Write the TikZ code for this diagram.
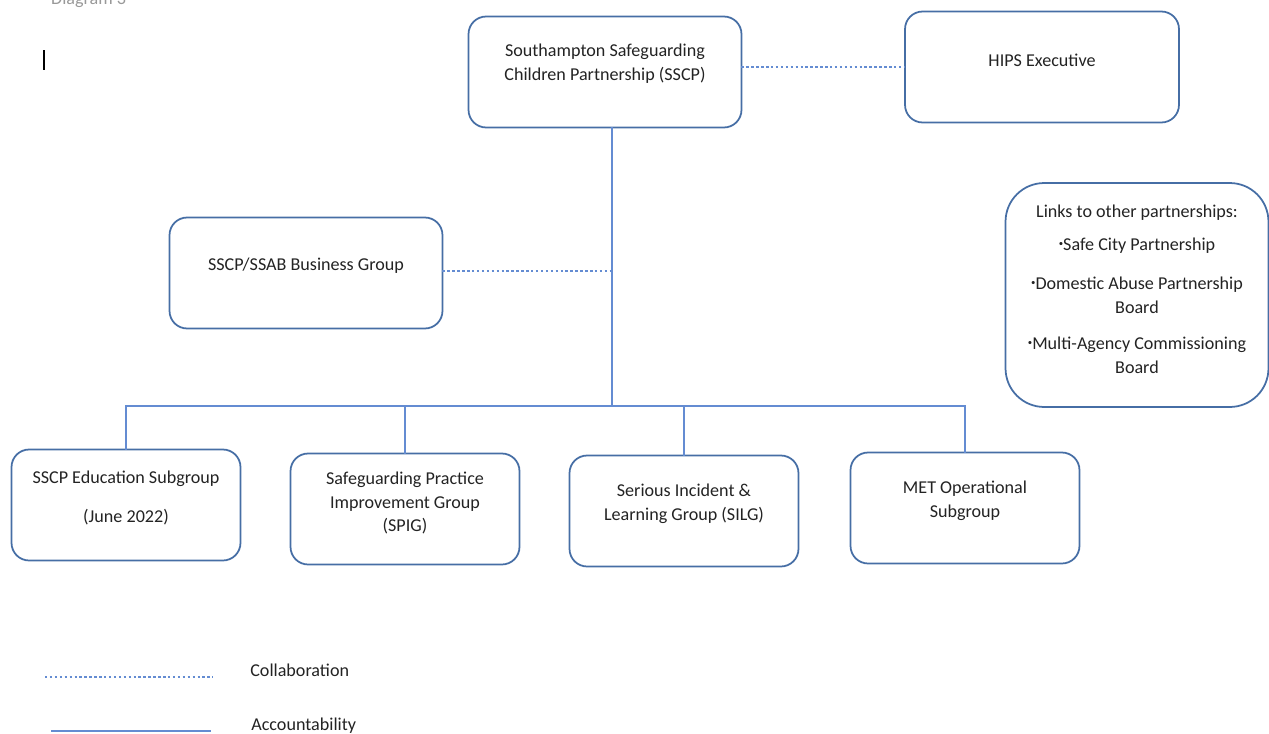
\documentclass[tikz,border=0pt]{standalone}
\usepackage{fontspec}
\setmainfont{Carlito}
\usetikzlibrary{positioning}

\definecolor{boxblue}{RGB}{70,110,165}
\definecolor{lineblue}{RGB}{100,140,210}
\definecolor{txtgray}{RGB}{35,35,35}
\newcommand{\linkbullet}{\raisebox{.5ex}{\tiny •}}

\begin{document}
\begin{tikzpicture}[
    x=0.02cm, y=-0.02cm,
    every node/.style={font=\fontsize{10.3}{13.6}\selectfont, text=txtgray},
    box/.style={rectangle, draw=boxblue, line width=1pt, rounded corners=10pt, minimum width=4.58cm, minimum height=2.22cm, outer sep=0pt},
    widebox/.style={box, minimum width=5.46cm},
    boxtext/.style={align=center, inner sep=0pt},
    account/.style={lineblue, line width=1pt},
    collab/.style={lineblue, line width=1pt, dash pattern=on 1.4pt off 1.4pt}
]
\useasboundingbox (0,0) rectangle (1269,734);

% clipped heading and cursor
\begin{scope}
\clip (0,0) rectangle (1269,734);
\node[anchor=base west, text=gray!80] (heading) at (45,4) {Diagram 3};
\end{scope}
\draw[black, line width=0.8pt] (44,50) -- (44,70);

% ============ TOP LEVEL ============
\node[widebox] (sscp) at (605,72) {};
\node[boxtext] (sscp-txt) at (605,64) {Southampton Safeguarding\\Children Partnership (SSCP)};

\node[widebox, minimum width=5.48cm] (hips) at (1042,67) {};
\node[boxtext] (hips-txt) at (1042,60) {HIPS Executive};

\node[widebox] (biz) at (306,273) {};
\node[boxtext] (biz-txt) at (306,266) {SSCP/SSAB Business Group};

% links to other partnerships
\node[box, minimum width=5.26cm, minimum height=4.48cm, rounded corners=22pt] (links) at (1137,295) {};
\node[boxtext] (links-txt) at (1137,289) {Links to other partnerships:\\[5.7pt]
    \linkbullet Safe City Partnership\\[8.5pt]
    \linkbullet Domestic Abuse Partnership\\Board\\[6.8pt]
    \linkbullet Multi-Agency Commissioning\\Board};

% ============ SUBGROUPS ============
\node[box] (edu) at (126,505) {};
\node[boxtext] (edu-txt) at (126,498) {SSCP Education Subgroup\\[9pt](June 2022)};

\node[box] (spig) at (405,509) {};
\node[boxtext] (spig-txt) at (405,503) {Safeguarding Practice\\Improvement Group\\(SPIG)};

\node[box] (silg) at (684,511) {};
\node[boxtext] (silg-txt) at (684,504) {Serious Incident \&\\Learning Group (SILG)};

\node[box] (met) at (965,508) {};
\node[boxtext] (met-txt) at (965,501) {MET Operational\\Subgroup};

% ============ CONNECTIONS ============
\coordinate (busmid) at (612,406);
\draw[account] (sscp.south -| busmid) -- (busmid);
\draw[account] (edu.north) -- (edu.north |- busmid) -- (met.north |- busmid) -- (met.north);
\draw[account] (spig.north) -- (spig.north |- busmid);
\draw[account] (silg.north) -- (silg.north |- busmid);

\draw[collab] ([yshift=3pt]sscp.east) -- ([yshift=3pt]sscp.east -| hips.west);
\draw[collab] ([yshift=1pt]biz.east) -- ([yshift=1pt]biz.east -| busmid);

% ============ LEGEND ============
\coordinate (collab-a) at (45,677);
\coordinate (collab-b) at (213,677);
\draw[collab] (collab-a) -- (collab-b);
\node[anchor=west, inner sep=0pt] (collab-lbl) at (250,670) {Collaboration};

\coordinate (account-a) at (51,731);
\coordinate (account-b) at (211,731);
\draw[account] (account-a) -- (account-b);
\node[anchor=west, inner sep=0pt] (account-lbl) at (251,726) {Accountability};

\end{tikzpicture}
\end{document}
